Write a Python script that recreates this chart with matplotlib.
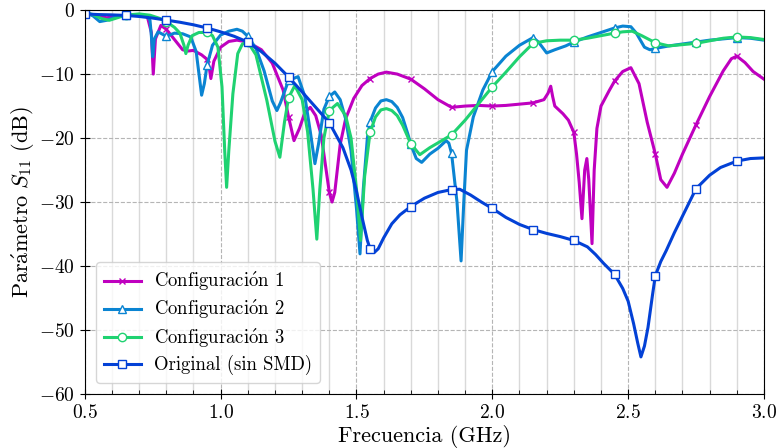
import numpy as np
import matplotlib
matplotlib.use("Agg")
import matplotlib.pyplot as plt
from matplotlib.ticker import MultipleLocator

plt.rcParams['font.family'] = ['cmr10', 'DejaVu Serif']
plt.rcParams['mathtext.fontset'] = 'cm'
plt.rcParams['axes.formatter.use_mathtext'] = True
plt.rcParams['axes.unicode_minus'] = True

# ---------------- data (GHz, dB) ----------------
marker_freqs = [0.5, 0.65, 0.8, 0.95, 1.1, 1.25, 1.4, 1.55, 1.7, 1.85,
                2.0, 2.15, 2.3, 2.45, 2.6, 2.75, 2.9]

f_c1 = [0.50, 0.55, 0.58, 0.62, 0.65, 0.70, 0.73, 0.745, 0.752, 0.76, 0.78, 0.80,
        0.83, 0.86, 0.88, 0.90, 0.93, 0.95, 0.958, 0.964, 0.975, 1.00, 1.03, 1.06,
        1.10, 1.15, 1.19, 1.23, 1.25, 1.27, 1.29, 1.31, 1.33, 1.35, 1.37, 1.39,
        1.40, 1.41, 1.42, 1.44, 1.46, 1.49, 1.52, 1.55, 1.58, 1.61, 1.65, 1.70,
        1.75, 1.80, 1.85, 1.90, 1.95, 2.00, 2.05, 2.10, 2.15, 2.19, 2.205, 2.215,
        2.222, 2.23, 2.26, 2.28, 2.30, 2.31, 2.32, 2.33, 2.34, 2.348, 2.355, 2.367,
        2.375, 2.385, 2.40, 2.43, 2.45, 2.48, 2.51, 2.54, 2.57, 2.60, 2.62, 2.643, 2.67,
        2.70, 2.75, 2.80, 2.85, 2.88, 2.90, 2.93, 2.96, 3.00]
s_c1 = [-0.5, -0.9, -1.2, -1.0, -0.8, -0.7, -1.0, -3.5, -10.0, -4.5, -2.4, -3.0,
        -4.6, -6.2, -6.4, -6.3, -7.0, -7.7, -9.0, -10.7, -8.0, -5.8, -4.9, -4.7,
        -5.0, -6.2, -8.3, -12.5, -16.7, -20.4, -18.5, -16.0, -15.2, -16.5, -19.5, -25.5,
        -28.5, -30.0, -28.5, -21.0, -17.0, -13.8, -11.8, -10.7, -10.0, -9.7, -10.0, -10.8,
        -12.3, -14.0, -15.2, -15.0, -14.9, -15.0, -14.9, -14.7, -14.5, -14.0, -13.0, -11.9,
        -13.5, -15.0, -16.2, -17.2, -19.1, -22.5, -27.0, -32.6, -25.0, -23.2, -26.5, -36.5,
        -25.0, -18.5, -15.0, -12.6, -11.1, -9.6, -9.0, -11.5, -17.5, -22.5, -26.5, -27.7, -25.5,
        -22.5, -17.9, -13.5, -9.5, -7.6, -7.2, -8.2, -9.6, -10.8]

f_c2 = [0.50, 0.53, 0.555, 0.58, 0.62, 0.65, 0.70, 0.73, 0.74, 0.745, 0.75, 0.756,
        0.77, 0.80, 0.83, 0.86, 0.89, 0.91, 0.93, 0.94, 0.95, 0.97, 1.00, 1.03,
        1.06, 1.08, 1.10, 1.13, 1.16, 1.19, 1.207, 1.22, 1.25, 1.285, 1.31, 1.33,
        1.347, 1.36, 1.38, 1.40, 1.42, 1.44, 1.46, 1.48, 1.50, 1.513, 1.525, 1.54,
        1.55, 1.57, 1.59, 1.61, 1.63, 1.65, 1.67, 1.69, 1.70, 1.72, 1.74, 1.77, 1.80, 1.83,
        1.84, 1.85, 1.87, 1.885, 1.895, 1.905, 1.93, 1.965, 2.00, 2.05, 2.10, 2.15,
        2.17, 2.20, 2.23, 2.27, 2.30, 2.35, 2.40, 2.45, 2.48, 2.51, 2.53, 2.56,
        2.58, 2.60, 2.65, 2.70, 2.75, 2.80, 2.85, 2.90, 2.95, 3.00]
s_c2 = [-0.4, -0.9, -1.8, -1.6, -1.0, -0.8, -0.7, -1.0, -1.6, -4.0, -7.3, -4.5,
        -3.4, -4.1, -3.6, -3.7, -4.2, -6.5, -13.3, -11.5, -8.6, -5.5, -3.9, -3.3,
        -3.0, -3.3, -4.1, -6.0, -9.5, -14.2, -15.7, -14.5, -11.0, -10.4, -13.5, -19.0,
        -24.0, -21.0, -15.5, -13.5, -12.8, -14.0, -17.0, -22.0, -31.0, -38.1, -28.0, -20.0,
        -17.5, -15.3, -14.2, -14.0, -14.3, -15.2, -16.8, -19.5, -21.0, -23.2, -23.8, -22.5, -21.6, -20.4,
        -20.8, -22.4, -30.0, -39.2, -30.0, -21.9, -16.7, -12.5, -9.6, -7.2, -5.5, -4.3,
        -5.0, -6.7, -6.2, -5.6, -5.0, -4.2, -3.5, -2.8, -2.5, -2.6, -3.6, -5.8,
        -6.2, -6.0, -5.6, -5.3, -5.0, -4.7, -4.5, -4.3, -4.4, -4.7]

f_c3 = [0.50, 0.53, 0.56, 0.59, 0.62, 0.65, 0.70, 0.74, 0.776, 0.80, 0.83, 0.85,
        0.865, 0.872, 0.88, 0.895, 0.92, 0.95, 0.97, 0.99, 1.005, 1.015, 1.022, 1.03,
        1.045, 1.063, 1.08, 1.10, 1.13, 1.17, 1.20, 1.218, 1.235, 1.25, 1.273, 1.30,
        1.32, 1.34, 1.354, 1.365, 1.38, 1.40, 1.43, 1.46, 1.48, 1.50, 1.515, 1.53,
        1.55, 1.57, 1.59, 1.61, 1.63, 1.65, 1.67, 1.70, 1.733, 1.77, 1.81, 1.85, 1.90, 1.95,
        2.00, 2.05, 2.10, 2.15, 2.20, 2.25, 2.30, 2.35, 2.40, 2.45, 2.48, 2.515,
        2.55, 2.60, 2.65, 2.70, 2.75, 2.80, 2.85, 2.90, 2.95, 3.00]
s_c3 = [-0.4, -0.7, -1.3, -1.6, -1.2, -0.8, -0.6, -0.8, -1.3, -1.8, -2.7, -3.6,
        -5.5, -6.8, -5.5, -4.0, -3.5, -3.5, -4.0, -5.8, -12.0, -22.0, -27.7, -22.0,
        -13.1, -6.8, -5.3, -5.0, -7.0, -14.1, -20.5, -23.0, -17.5, -13.7, -11.8, -14.0,
        -19.0, -28.0, -35.8, -28.0, -20.0, -15.7, -14.6, -16.5, -20.0, -28.0, -36.0, -26.0,
        -19.1, -16.7, -15.6, -15.4, -15.7, -16.5, -18.0, -20.9, -22.6, -21.5, -20.5, -19.5, -17.2, -14.6,
        -12.0, -9.7, -7.3, -5.2, -4.8, -4.7, -4.7, -4.4, -4.0, -3.6, -3.4, -3.3,
        -4.0, -5.1, -5.6, -5.4, -5.2, -4.8, -4.4, -4.2, -4.3, -4.6]

f_or = [0.50, 0.55, 0.60, 0.65, 0.70, 0.75, 0.80, 0.85, 0.90, 0.95, 1.00, 1.05,
        1.10, 1.15, 1.20, 1.25, 1.30, 1.35, 1.40, 1.45, 1.48, 1.50, 1.52, 1.54,
        1.55, 1.565, 1.58, 1.60, 1.63, 1.66, 1.70, 1.75, 1.80, 1.85, 1.88, 1.92,
        1.96, 2.00, 2.05, 2.10, 2.15, 2.20, 2.25, 2.30, 2.35, 2.38, 2.41, 2.45,
        2.48, 2.50, 2.52, 2.535, 2.547, 2.56, 2.573, 2.59, 2.60, 2.62, 2.64, 2.67,
        2.70, 2.75, 2.80, 2.84, 2.90, 2.95, 3.00]
s_or = [-0.6, -0.7, -0.75, -0.83, -1.0, -1.25, -1.57, -1.9, -2.3, -2.8, -3.4, -4.1,
        -5.0, -6.5, -8.3, -10.45, -12.8, -15.2, -17.6, -21.5, -25.0, -28.3, -32.3, -36.0,
        -37.3, -37.9, -37.3, -35.6, -33.4, -32.0, -30.7, -29.4, -28.5, -28.05, -28.0, -28.9,
        -30.0, -31.0, -32.4, -33.5, -34.3, -34.9, -35.4, -36.0, -37.0, -38.2, -39.6, -41.3,
        -43.5, -45.5, -49.0, -52.0, -54.2, -52.5, -49.6, -44.4, -41.5, -39.3, -37.6, -34.8,
        -32.2, -27.9, -25.8, -24.6, -23.6, -23.2, -23.1]

labels = [r'Configuraci$\acute{\mathrm{o}}$n 1', r'Configuraci$\acute{\mathrm{o}}$n 2',
          r'Configuraci$\acute{\mathrm{o}}$n 3', 'Original (sin SMD)']

# ---------------- plot ----------------
fig = plt.figure(figsize=(7.78, 4.48), dpi=100)
ax = fig.add_axes([0.109, 0.1205, 0.873, 0.857])

series = [
    (f_c1, s_c1, '#bf00bf', 'x', labels[0]),
    (f_c2, s_c2, '#0a84d2', '^', labels[1]),
    (f_c3, s_c3, '#1fd271', 'o', labels[2]),
    (f_or, s_or, '#0341d6', 's', labels[3]),
]
for f, s, c, m, lab in series:
    f = np.asarray(f)
    mask = np.array([np.any(np.isclose(v, marker_freqs)) for v in f])
    mfc = c if m == 'x' else 'white'
    ax.plot(f, s, color=c, lw=2.2, marker=m, markevery=list(np.where(mask)[0]),
            markersize=6 if m != 'x' else 5, markerfacecolor=mfc,
            markeredgecolor=c, markeredgewidth=1.0, label=lab)

ax.set_xlim(0.5, 3.0)
ax.set_ylim(-60, 0)
ax.xaxis.set_major_locator(MultipleLocator(0.5))
ax.xaxis.set_minor_locator(MultipleLocator(0.1))
ax.yaxis.set_major_locator(MultipleLocator(10))
ax.grid(which='major', linestyle='--', color='#b5b5b5', lw=0.8)
ax.grid(which='minor', axis='x', linestyle='-', color='#d9d9d9', lw=1.0)
ax.set_axisbelow(True)
ax.tick_params(which='major', direction='inout', length=7, labelsize=14)
ax.tick_params(which='minor', direction='in', length=3)

ax.set_xlabel('Frecuencia (GHz)', fontsize=16, labelpad=2)
ax.set_ylabel(r'$\mathrm{Par\acute{a}metro}\ S_{11}\ \mathrm{(dB)}$', fontsize=16, labelpad=2)

ax.legend(loc='lower left', fontsize=13.5, handlelength=2.0, handletextpad=0.7,
          labelspacing=0.28, borderaxespad=0.6)

fig.savefig('out.png', dpi=100)
